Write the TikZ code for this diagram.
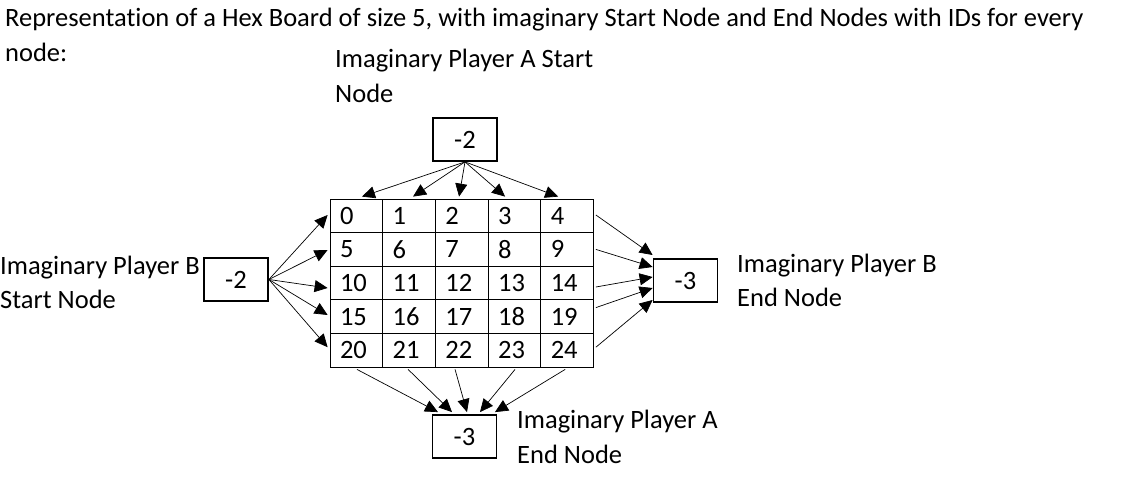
\documentclass[tikz,border=0pt]{standalone}
\usepackage{fontspec}
\setmainfont[Ligatures=NoCommon]{Carlito}
\usetikzlibrary{arrows.meta}
\begin{document}
\begin{tikzpicture}[x=1pt,y=-1pt,
  every node/.style={font=\fontsize{26.5}{31}\selectfont},
  txt/.style={anchor=base west, inner sep=0pt},
  cell/.style={draw, line width=0.8pt, minimum height=33.6pt, text width=32.7pt, inner xsep=10pt, inner ysep=0pt, align=left},
  idbox/.style={draw, line width=1.8pt, minimum width=64pt, minimum height=43pt, inner sep=0pt},
  arr/.style={-{Triangle[length=13pt,width=12pt]}, line width=0.7pt}
]
\useasboundingbox (0,0) rectangle (1129,497);
\node[txt] (title1) at (5,27) {Representation of a Hex Board of size 5, with imaginary Start Node and End Nodes with IDs for every};
\node[txt] (title2) at (5,62) {node:};
\node[txt] (la1) at (335,68) {Imaginary Player A Start};
\node[txt] (la2) at (335,103) {Node};
\node[txt] (lb1) at (0,274) {Imaginary Player B};
\node[txt] (lb2) at (0,308) {Start Node};
\node[txt] (rb1) at (737,272) {Imaginary Player B};
\node[txt] (rb2) at (737,306) {End Node};
\node[txt] (ba1) at (517,428) {Imaginary Player A};
\node[txt] (ba2) at (517,463) {End Node};
% grid
\foreach \i in {0,...,4}{
  \foreach \j in {0,...,4}{
    \pgfmathtruncatemacro{\n}{5*\i+\j}
    \node[cell] (c\n) at ({330+52.7*(\j+0.5)},{199+33.6*(\i+0.5)}) {\n};
  }
}
% boxes
\node[idbox] (sa) at (465,139.5) {-2};
\node[idbox] (sb) at (236,279.5) {-2};
\node[idbox] (eb) at (685.5,280.5) {-3};
\node[idbox] (ea) at (464.5,436.5) {-3};
% top arrows
\draw[arr] (sa.south) -- ([xshift=5.6pt,yshift=2pt]c0.north);
\draw[arr] (sa.south) -- ([xshift=4pt,yshift=2pt]c1.north);
\draw[arr] (sa.south) -- ([xshift=-2.7pt,yshift=2pt]c2.north);
\draw[arr] (sa.south) -- ([xshift=-9.4pt,yshift=2pt]c3.north);
\draw[arr] (sa.south) -- ([xshift=-9pt,yshift=2pt]c4.north);
% left arrows
\draw[arr] (sb.east) -- ([xshift=-2pt,yshift=0.8pt]c0.west);
\draw[arr] (sb.east) -- ([xshift=-2pt,yshift=-0.6pt]c5.west);
\draw[arr] (sb.east) -- ([xshift=-2pt,yshift=-5pt]c10.west);
\draw[arr] (sb.east) -- ([xshift=-2pt,yshift=1.6pt]c15.west);
\draw[arr] (sb.east) -- ([xshift=-2pt,yshift=3pt]c20.west);
% right arrows
\draw[arr] ([xshift=2pt,yshift=0.8pt]c4.east) -- ([yshift=25.5pt]eb.west);
\draw[arr] ([xshift=2pt]c9.east) -- ([yshift=13.5pt]eb.west);
\draw[arr] ([xshift=2pt,yshift=-4pt]c14.east) -- ([yshift=3.5pt]eb.west);
\draw[arr] ([xshift=2pt,yshift=9pt]c19.east) -- ([yshift=-7.5pt]eb.west);
\draw[arr] ([xshift=2pt,yshift=3pt]c24.east) -- ([yshift=-19.5pt]eb.west);
% bottom arrows
\draw[arr] ([xshift=0.6pt,yshift=-2pt]c20.south) -- ([xshift=-26.5pt,yshift=2pt]ea.north);
\draw[arr] ([xshift=-1pt,yshift=-2pt]c21.south) -- ([xshift=-12.5pt,yshift=2pt]ea.north);
\draw[arr] ([xshift=-6.7pt,yshift=-2pt]c22.south) -- ([xshift=2.5pt,yshift=2pt]ea.north);
\draw[arr] ([xshift=0.6pt,yshift=-2pt]c23.south) -- ([xshift=15.5pt,yshift=2pt]ea.north);
\draw[arr] ([xshift=-2pt,yshift=-2pt]c24.south) -- ([xshift=30.5pt,yshift=2pt]ea.north);
\end{tikzpicture}
\end{document}
